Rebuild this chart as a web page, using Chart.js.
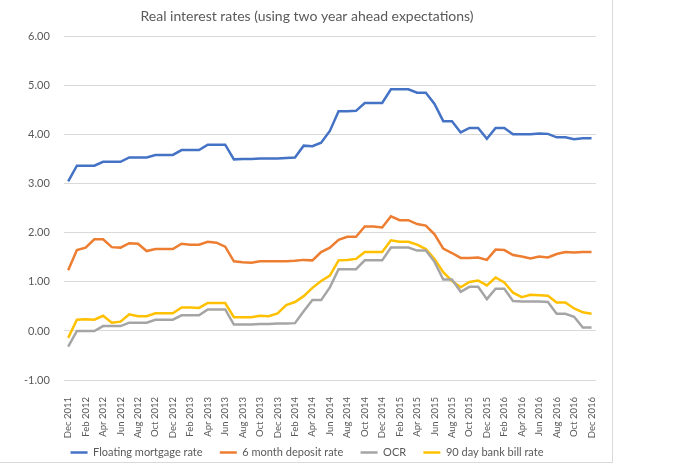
<!DOCTYPE html>
<html>
<head>
<meta charset="utf-8">
<script src="https://cdn.jsdelivr.net/npm/chart.js@4.4.1/dist/chart.umd.min.js"></script>
<style>
  body { margin: 0; background: #fff; }
  #box { width: 612px; height: 462px; border: 1px solid #d9d9d9; border-top: none; border-left: none; }
</style>
</head>
<body>
<div id="box"><canvas id="chart" width="612" height="462"></canvas></div>
<script>
const months = [
  "Dec 2011","Jan 2012","Feb 2012","Mar 2012","Apr 2012","May 2012","Jun 2012","Jul 2012","Aug 2012","Sep 2012","Oct 2012","Nov 2012",
  "Dec 2012","Jan 2013","Feb 2013","Mar 2013","Apr 2013","May 2013","Jun 2013","Jul 2013","Aug 2013","Sep 2013","Oct 2013","Nov 2013",
  "Dec 2013","Jan 2014","Feb 2014","Mar 2014","Apr 2014","May 2014","Jun 2014","Jul 2014","Aug 2014","Sep 2014","Oct 2014","Nov 2014",
  "Dec 2014","Jan 2015","Feb 2015","Mar 2015","Apr 2015","May 2015","Jun 2015","Jul 2015","Aug 2015","Sep 2015","Oct 2015","Nov 2015",
  "Dec 2015","Jan 2016","Feb 2016","Mar 2016","Apr 2016","May 2016","Jun 2016","Jul 2016","Aug 2016","Sep 2016","Oct 2016","Nov 2016",
  "Dec 2016"
];

const floating = [3.05,3.37,3.37,3.37,3.45,3.45,3.45,3.54,3.54,3.54,3.59,3.59,
  3.59,3.69,3.69,3.69,3.80,3.80,3.80,3.50,3.51,3.51,3.52,3.52,
  3.52,3.53,3.54,3.78,3.77,3.84,4.08,4.48,4.48,4.49,4.65,4.65,
  4.65,4.93,4.93,4.93,4.86,4.86,4.63,4.28,4.28,4.05,4.14,4.14,
  3.92,4.14,4.14,4.01,4.01,4.01,4.03,4.02,3.95,3.95,3.91,3.93,
  3.93];

const deposit = [1.24,1.65,1.70,1.87,1.87,1.71,1.70,1.79,1.78,1.63,1.67,1.67,
  1.67,1.78,1.76,1.76,1.82,1.80,1.72,1.42,1.40,1.39,1.42,1.42,
  1.42,1.42,1.43,1.45,1.44,1.61,1.70,1.86,1.92,1.92,2.13,2.13,
  2.11,2.34,2.26,2.26,2.18,2.15,1.97,1.68,1.59,1.49,1.49,1.50,
  1.45,1.66,1.65,1.55,1.52,1.48,1.52,1.50,1.57,1.61,1.60,1.61,
  1.61];

const ocr = [-0.32,0.00,0.00,0.00,0.10,0.10,0.10,0.17,0.17,0.17,0.23,0.23,
  0.23,0.32,0.32,0.32,0.44,0.44,0.44,0.13,0.13,0.13,0.14,0.14,
  0.15,0.15,0.16,0.40,0.63,0.63,0.89,1.26,1.26,1.26,1.44,1.44,
  1.44,1.70,1.70,1.70,1.64,1.64,1.41,1.05,1.05,0.80,0.90,0.90,
  0.65,0.86,0.86,0.61,0.60,0.60,0.60,0.59,0.35,0.35,0.29,0.07,
  0.07];

const billRate = [-0.14,0.23,0.24,0.23,0.31,0.17,0.19,0.34,0.30,0.30,0.36,0.36,
  0.36,0.48,0.48,0.47,0.57,0.57,0.57,0.28,0.28,0.28,0.31,0.30,
  0.36,0.53,0.59,0.71,0.88,1.02,1.13,1.44,1.45,1.47,1.61,1.61,
  1.61,1.85,1.82,1.82,1.76,1.67,1.47,1.20,1.02,0.89,1.00,1.03,
  0.93,1.09,0.99,0.78,0.69,0.74,0.73,0.72,0.58,0.58,0.46,0.38,
  0.35];

const seriesNames = ["Floating mortgage rate", "6 month deposit rate", "OCR", "90 day bank bill rate"];
const seriesColors = ["#4472C4", "#ED7D31", "#A5A5A5", "#FFC000"];
const seriesData = [floating, deposit, ocr, billRate];

const textColor = "#595959";
const fontFamily = "Lato, 'Open Sans', sans-serif";

// fixed legend box height so the plot keeps its size
const legendHeight = {
  id: "legendHeight",
  beforeInit(chart) {
    const fit = chart.legend.fit;
    chart.legend.fit = function () {
      fit.call(this);
      this.height = 21;
    };
  }
};

new Chart(document.getElementById("chart"), {
  type: "line",
  data: {
    labels: months,
    datasets: seriesData.map((d, i) => ({
      label: seriesNames[i],
      data: d,
      borderColor: seriesColors[i],
      backgroundColor: seriesColors[i],
      borderWidth: 2.5,
      pointRadius: 0,
      tension: 0,
      fill: false
    }))
  },
  plugins: [legendHeight],
  options: {
    responsive: false,
    animation: false,
    layout: { padding: { left: 10, right: 8, top: 0, bottom: 0 } },
    plugins: {
      title: {
        display: true,
        text: "Real interest rates (using two year ahead expectations)",
        color: textColor,
        font: { family: fontFamily, size: 14, weight: "normal" },
        padding: { top: 8, bottom: 12 }
      },
      legend: {
        position: "bottom",
        labels: {
          color: textColor,
          font: { family: fontFamily, size: 11 },
          usePointStyle: true,
          pointStyle: "line",
          pointStyleWidth: 17,
          boxHeight: 10,
          padding: 6,
          generateLabels: chart => Chart.defaults.plugins.legend.labels.generateLabels(chart)
            .map((l, i, all) => {
              if (i < all.length - 1) l.text += "    ";
              return l;
            })
        }
      },
      tooltip: { enabled: false }
    },
    scales: {
      x: {
        offset: true,
        afterFit: scale => { scale.height = 61; },
        grid: { display: false },
        border: { display: false },
        ticks: {
          autoSkip: false,
          minRotation: 90,
          maxRotation: 90,
          color: textColor,
          font: { family: fontFamily, size: 9.5 },
          padding: 9,
          callback: function (val, index) {
            return index % 2 === 0 ? months[index] : "";
          }
        }
      },
      y: {
        min: -1,
        max: 6,
        grid: { color: "#d9d9d9", lineWidth: 1, drawTicks: false },
        border: { display: false },
        ticks: {
          stepSize: 1,
          padding: 14,
          color: textColor,
          font: { family: fontFamily, size: 11 },
          callback: v => v.toFixed(2)
        }
      }
    }
  }
});
</script>
</body>
</html>
